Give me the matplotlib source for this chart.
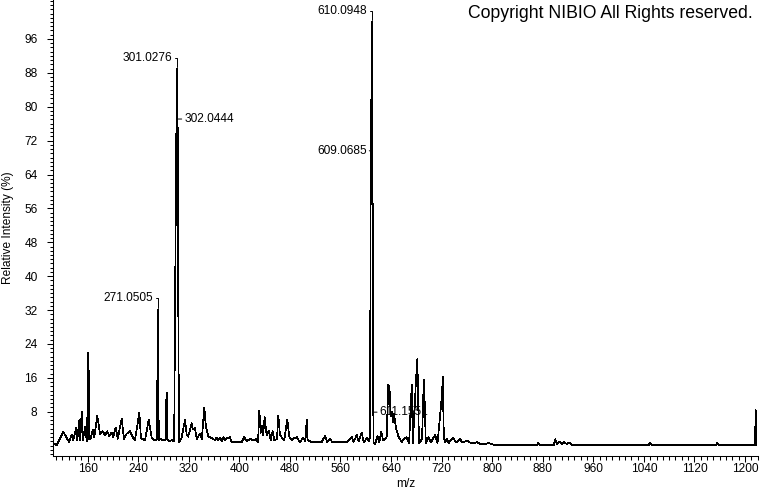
import numpy as np
import matplotlib.pyplot as plt
from matplotlib.ticker import MultipleLocator, FixedLocator

plt.rcParams['font.family'] = ['Liberation Sans', 'DejaVu Sans']

# profile spectrum (m/z, relative intensity %)
mz = [106.0, 111.0, 121.4, 126.8, 130.4, 134.7, 137.2, 141.5, 143.5, 146.7,
      148.3, 150.5, 152.0, 156.2, 158.5, 160.2, 161.0, 161.6, 162.6, 164.5,
      167.9, 170.5, 175.2, 179.5, 183.7, 187.4, 191.0, 194.2, 198.0, 200.5,
      204.3, 207.5, 213.8, 217.4, 221.7, 227.0, 231.2, 234.8, 241.7, 244.3,
      250.7, 256.5, 261.3, 266.5, 269.5, 270.4, 271.05, 271.7, 272.5, 275.5,
      278.5, 283.0, 284.3, 285.0, 286.0, 289.0, 292.9, 296.0, 297.2, 298.2,
      301.03, 302.04, 302.6, 303.2, 304.5, 308.7, 314.0, 316.6, 319.0, 324.5,
      326.0, 329.8, 332.5, 337.7, 340.5, 344.5, 347.0, 350.8, 356.0, 361.4,
      364.0, 366.7, 369.3, 372.0, 374.6, 377.0, 380.0, 385.0, 387.8, 403.7,
      407.3, 411.6, 416.8, 423.0, 426.3, 429.5, 431.6, 433.7, 435.8, 437.5,
      440.0, 443.2, 446.4, 449.6, 452.7, 455.3, 459.5, 461.6, 464.3, 468.0,
      471.0, 475.8, 479.0, 482.8, 486.4, 490.7, 496.0, 501.0, 504.5, 506.5,
      508.0, 515.0, 530.0, 535.5, 539.0, 543.4, 547.0, 570.0, 578.0, 580.5,
      585.7, 588.5, 593.5, 597.0, 602.3, 604.5, 606.5, 607.3, 608.1, 609.07,
      610.09, 610.6, 611.2, 612.2, 614.5, 618.5, 621.5, 624.5, 627.5, 633.0,
      635.6, 637.5, 639.5, 641.5, 643.0, 644.6, 647.8, 651.5, 656.8, 660.5,
      664.7, 668.5, 671.6, 672.7, 674.5, 679.5, 681.6, 684.2, 689.0, 691.2,
      692.2, 695.0, 699.0, 703.0, 709.8, 713.5, 720.8, 721.7, 723.5, 725.4,
      728.0, 731.0, 738.5, 742.8, 749.0, 753.0, 759.7, 767.6, 775.5, 781.0,
      788.7, 793.9, 800.0, 807.0, 871.0, 873.0, 875.0, 897.5, 899.6, 902.3,
      906.5, 910.0, 913.7, 917.9, 922.0, 925.7, 1047.5, 1049.7, 1052.0, 1154.0,
      1156.0, 1158.0, 1215.5, 1216.2, 1216.9, 1217.3]
intensity = [0.5, 0.1, 3.3, 1.8, 0.9, 2.5, 1.3, 4.1, 1.2, 6.0,
             1.3, 8.0, 1.2, 4.5, 1.0, 11.0, 22.0, 17.0, 1.5, 1.6,
             3.7, 2.0, 7.0, 2.8, 3.4, 2.5, 3.4, 2.2, 3.1, 2.0,
             4.3, 1.6, 6.4, 1.6, 2.8, 3.4, 2.0, 1.3, 7.8, 1.8,
             1.2, 6.2, 1.8, 1.2, 1.5, 17.5, 32.1, 17.0, 1.2, 1.6,
             1.2, 1.3, 10.5, 12.5, 1.5, 1.0, 1.3, 1.0, 8.0, 32.5,
             88.9, 81.0, 70.0, 37.0, 0.8, 1.9, 6.2, 2.6, 2.1, 5.3,
             3.9, 4.1, 1.6, 2.8, 1.5, 9.0, 4.5, 2.2, 1.8, 1.3,
             1.9, 1.3, 1.9, 1.1, 2.0, 1.3, 1.8, 2.0, 0.8, 0.8,
             2.1, 1.0, 1.6, 1.2, 1.6, 0.8, 8.2, 3.0, 4.6, 2.5,
             6.7, 2.5, 3.6, 1.3, 3.4, 1.3, 1.5, 7.0, 2.5, 1.8,
             1.2, 6.2, 2.1, 1.3, 1.8, 2.0, 0.8, 1.9, 1.0, 6.2,
             1.3, 0.8, 0.8, 2.3, 0.9, 1.6, 0.8, 0.9, 2.0, 0.8,
             2.5, 1.0, 3.0, 0.8, 1.9, 1.0, 1.9, 35.0, 77.0, 83.5,
             100.0, 83.0, 28.5, 0.8, 0.3, 2.2, 0.8, 3.2, 1.2, 2.0,
             14.3, 13.8, 7.0, 8.0, 5.5, 7.6, 4.1, 2.2, 0.8, 1.6,
             2.0, 0.5, 11.0, 14.3, 0.5, 15.6, 20.4, 0.5, 1.6, 12.5,
             15.6, 0.5, 2.0, 0.8, 2.5, 0.5, 12.4, 16.3, 2.0, 0.8,
             1.6, 0.6, 1.9, 0.7, 1.6, 0.7, 1.2, 0.5, 0.8, 0.4,
             0.3, 0.6, 0.3, 0.1, 0.1, 0.6, 0.1, 0.1, 1.5, 0.4,
             0.9, 0.4, 0.9, 0.35, 0.7, 0.15, 0.15, 0.6, 0.15, 0.15,
             0.6, 0.15, 0.15, 2.9, 8.4, 0.2]

# annotated peaks
label_mz = [271.0505, 301.0276, 302.0444, 609.0685, 610.0948, 611.1551]
label_int = [32.1, 88.9, 77.1, 69.6, 100.0, 7.9]
label_side = ['top', 'top', 'right', 'left', 'top', 'right']

fs = 8.6
px = 0.72  # points per pixel at 100 dpi

fig = plt.figure(figsize=(7.6, 4.92), dpi=100)
ax = fig.add_axes([53/760, 1 - 456/492, 705/760, 456/492])

ax.plot(mz, intensity, color='black', lw=0.5, antialiased=False)

ax.set_xlim(105.1, 1220.6)
ax.set_ylim(-2.45, 105.2)

ax.xaxis.set_major_locator(MultipleLocator(80))
ax.xaxis.set_minor_locator(MultipleLocator(10))
ax.yaxis.set_major_locator(FixedLocator(np.arange(8, 97, 8)))
ax.yaxis.set_minor_locator(MultipleLocator(1))

for s in ['top', 'right']:
    ax.spines[s].set_visible(False)
for s in ['left', 'bottom']:
    ax.spines[s].set_linewidth(0.75)

ax.tick_params(axis='x', which='major', direction='out', length=4.6, width=0.75,
               labelsize=fs, pad=0.8)
ax.tick_params(axis='x', which='minor', direction='out', length=2.8, width=0.75)
ax.tick_params(axis='y', which='major', direction='out', length=4.3, width=0.75,
               labelsize=fs, pad=6.8)
ax.tick_params(axis='y', which='minor', direction='out', length=2.3, width=0.75)

line = dict(arrowstyle='-', color='black', lw=0.7)
for m, h, side, in zip(label_mz, label_int, label_side):
    txt = '%.4f' % m
    if side == 'top':
        ax.annotate(txt, xy=(m, h), xytext=(-5 * px, 11.5 * px),
                    textcoords='offset points', ha='right', va='center', fontsize=fs,
                    arrowprops=dict(line, relpos=(1, 0.5), shrinkA=0, shrinkB=1.5,
                                    connectionstyle='angle,angleA=0,angleB=90,rad=0'))
    elif side == 'left':
        ax.annotate(txt, xy=(m, h), xytext=(-5 * px, 0),
                    textcoords='offset points', ha='right', va='center', fontsize=fs,
                    arrowprops=dict(line, relpos=(1, 0.5), shrinkA=0, shrinkB=0.5))
    else:
        ax.annotate(txt, xy=(m, h), xytext=(7 * px, 0),
                    textcoords='offset points', ha='left', va='center', fontsize=fs,
                    arrowprops=dict(line, relpos=(0, 0.5), shrinkA=0, shrinkB=0.5))

fig.text(8.5/760, 1 - 228/492, 'Relative Intensity (%)', rotation=90,
         ha='center', va='center', fontsize=fs)
fig.text(405.5/760, 1 - 484/492, 'm/z', ha='center', va='center', fontsize=fs)
fig.text(753/760, 1 - 18.3/492, 'Copyright NIBIO All Rights reserved.',
         ha='right', va='baseline', fontsize=12.7)

fig.savefig('out.png', dpi=100)
